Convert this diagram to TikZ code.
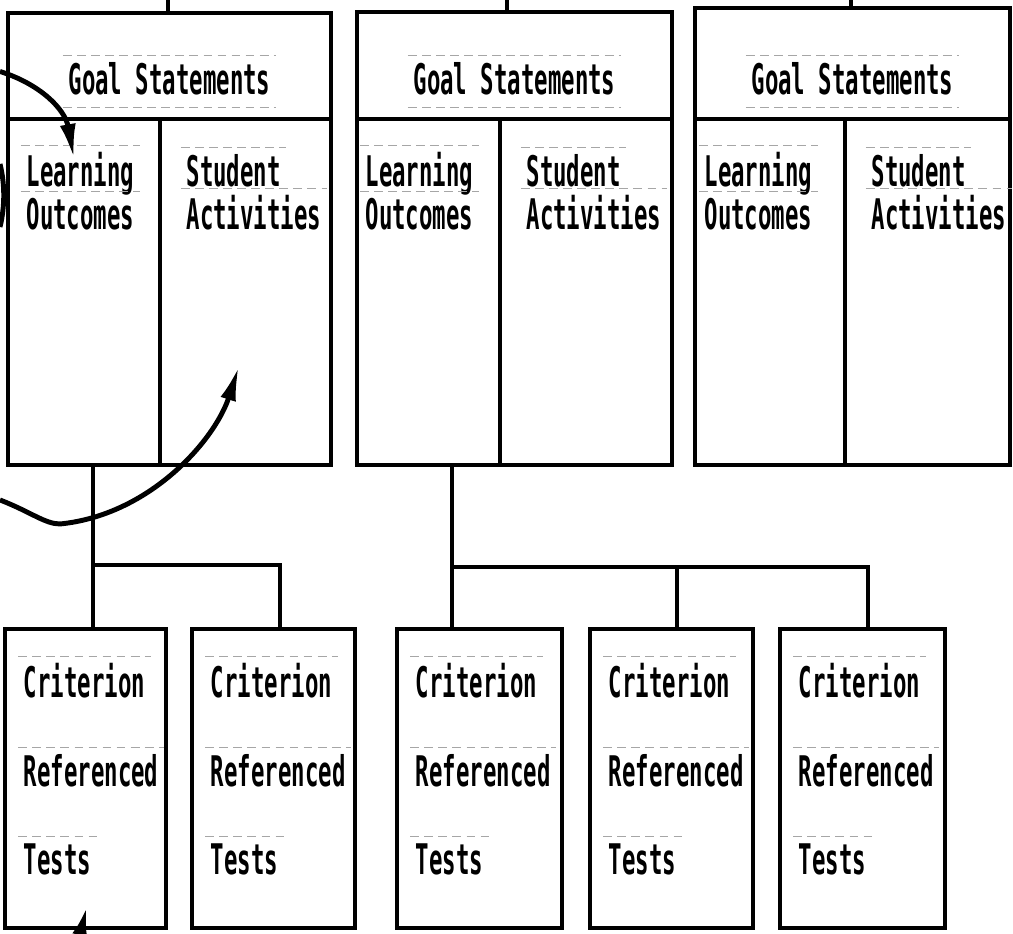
\documentclass[tikz,border=0pt]{standalone}
\usepackage{fontspec}
\usetikzlibrary{arrows.meta,positioning,fit}
\newfontfamily\typefont[FakeStretch=0.53]{DejaVu Sans Mono}

\tikzset{
  panel/.style={draw,line width=2.8pt,inner sep=0pt},
  cell/.style={draw,line width=2pt,inner sep=0pt},
  guide/.style={draw=black!35,line width=0.5pt,dash pattern=on 5pt off 3pt},
  typed/.style={font=\typefont\bfseries\fontsize{24pt}{26pt}\selectfont,inner sep=0pt,anchor=base west,
    append after command={([shift={(-3pt,4pt)}]\tikzlastnode.north west) edge[guide] ([shift={(3pt,4pt)}]\tikzlastnode.north east)}},
  headline/.style={typed,anchor=base,
    append after command={([shift={(-3pt,-7pt)}]\tikzlastnode.south west) edge[guide] ([shift={(3pt,-7pt)}]\tikzlastnode.south east)}},
  link/.style={line width=2pt},
  curve/.style={line width=2.8pt},
  sweep/.style={curve,-{Latex[length=7mm,width=3.2mm]}},
}

\begin{document}
\begin{tikzpicture}
\path[use as bounding box,fill=white] (0,0) rectangle (20.26,18.68);

% text rows
\coordinate (row) at (0,14.94);
\coordinate (critrow) at (0,4.72);

% the three planning sheets
\foreach \i/\l/\m/\r/\t/\pad in {1/0.16/3.20/6.62/18.42/0.40, 2/7.14/10.00/13.44/18.44/0.20, 3/13.90/16.90/20.20/18.52/0.22}{
  \node[cell,fit={(\l,9.38) (\m,16.3)}] (out\i) {};
  \node[cell,fit={(\m,9.38) (\r,16.3)}] (act\i) {};
  \node[panel,fit={(\l,9.38) (\r,\t)}] (plan\i) {};
  \node[panel,fit={(\l,16.3) (\r,\t)}] (goal\i) {};
  \node[headline] (gs\i) at ([yshift=5.4mm]goal\i.south) {Goal Statements};
  \node[typed] (lrn\i) at ([xshift=\pad cm]out\i.west |- row) {Learning};
  \node[below=8.6mm of lrn\i.base west,typed] (outc\i) {Outcomes};
  \node[typed] (stu\i) at ([xshift=5.6mm]act\i.west |- row) {Student};
  \node[below=8.6mm of stu\i.base west,typed] (acts\i) {Activities};
}

% criterion referenced tests
\foreach \j/\l/\r in {1/0.10/3.32, 2/3.84/7.10, 3/7.94/11.24, 4/11.80/15.06, 5/15.60/18.90}{
  \node[panel,fit={(\l,0.12) (\r,6.1)}] (test\j) {};
  \node[typed] (crit\j) at ([xshift=4.2mm]test\j.west |- critrow) {Criterion};
  \node[below=17.7mm of crit\j.base west,typed] (refd\j) {Referenced};
  \node[below=17.7mm of refd\j.base west,typed] (tests\j) {Tests};
}

% lines in from above
\coordinate (in1) at (3.36,18.68);
\coordinate (in2) at (10.14,18.68);
\coordinate (in3) at (17.02,18.68);
\draw[link] (in1) -- (in1 |- plan1.north);
\draw[link] (in2) -- (in2 |- plan2.north);
\draw[link] (in3) -- (in3 |- plan3.north);

% sheets down to tests
\coordinate (bus1) at (0,7.38);
\coordinate (bus2) at (0,7.34);
\draw[link] ([xshift=1.5mm]test1.north |- plan1.south) -- ([xshift=1.5mm]test1.north);
\draw[link] ([xshift=1.5mm]test1.north |- bus1) -| ([xshift=1.3mm]test2.north);
\draw[link] ([xshift=-5.5mm]test3.north |- plan2.south) -- ([xshift=-5.5mm]test3.north);
\draw[link] ([xshift=-5.5mm]test3.north |- bus2) -| ([xshift=1.1mm]test5.north);
\draw[link] ([xshift=1.1mm]test4.north |- bus2) -- ([xshift=1.1mm]test4.north);

% hand drawn arrows
\coordinate (fromA) at (0,17.25);
\coordinate (toA) at (1.48,15.5);
\draw[sweep] (fromA) .. controls (0.8,17.0) and (1.3,16.5) .. (toA);
\draw[curve] (0,15.4) .. controls (0.1,15.0) and (0.1,14.55) .. (0,14.14);
\coordinate (fromB) at (0,8.68);
\coordinate (toB) at (4.78,11.36);
\draw[sweep] (fromB) .. controls (0.6,8.45) and (0.9,8.2) .. (1.2,8.2)
  .. controls (3.0,8.38) and (4.3,9.88) .. (toB);
\coordinate (fromC) at (1.5,-0.4);
\coordinate (toC) at (1.74,0.56);
\draw[curve,-{Latex[length=6mm,width=3mm]}] (fromC) -- (toC);
\end{tikzpicture}
\end{document}
